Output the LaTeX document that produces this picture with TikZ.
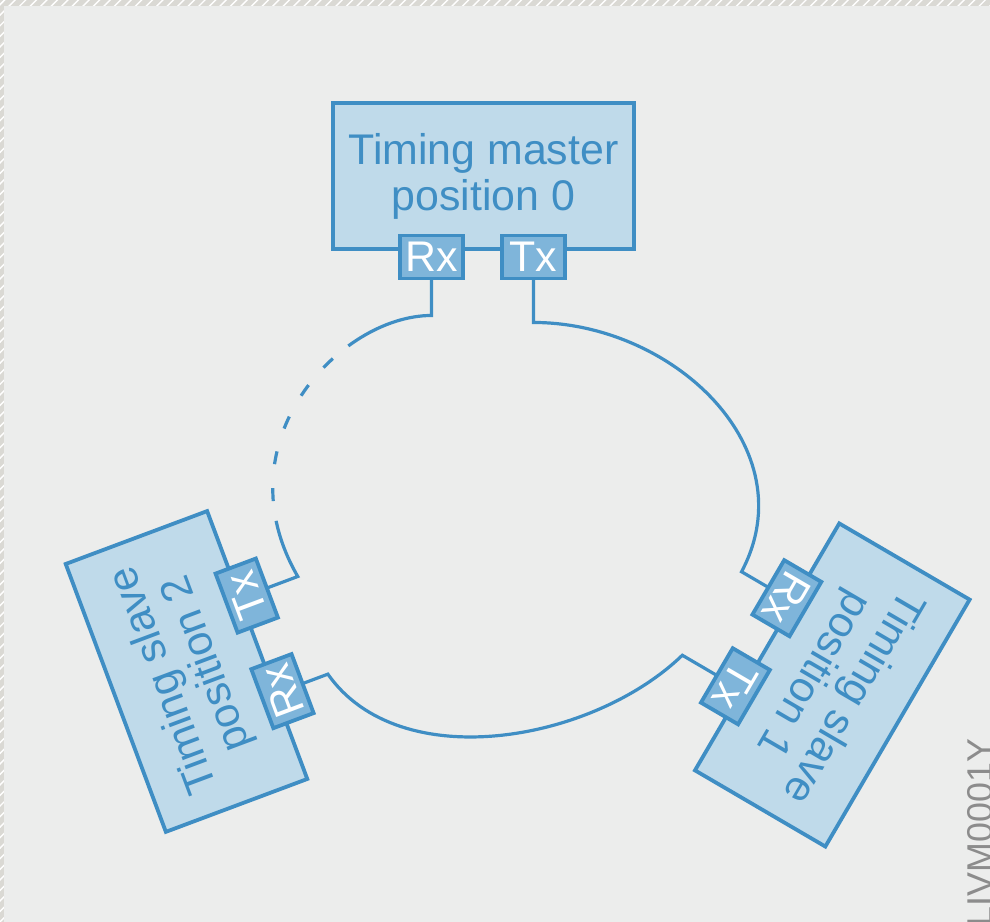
\documentclass[tikz,border=0pt]{standalone}
\usepackage{fontspec}
\setmainfont{Liberation Sans}
\usetikzlibrary{calc, patterns}

\definecolor{panelgray}{HTML}{ECEDEC}
\definecolor{hatchgray}{HTML}{DAD9D4}
\definecolor{ringblue}{HTML}{3F8EC4}
\definecolor{boxblue}{HTML}{BFDAEA}
\definecolor{portblue}{HTML}{7FB5DA}
\definecolor{codegray}{HTML}{8C8C8C}

\begin{document}
\begin{tikzpicture}[
    box/.style={draw=ringblue, fill=boxblue, line width=0.38mm, align=center,
        text=ringblue, inner sep=0pt, outer sep=0pt,
        font=\fontsize{12.2}{13.1}\selectfont},
    port/.style={draw=ringblue, fill=portblue, line width=0.38mm, text=white,
        minimum width=6.3mm, minimum height=4.3mm, inner sep=0pt, outer sep=0pt,
        font=\fontsize{12.2}{13.1}\selectfont},
    link/.style={draw=ringblue, line width=0.32mm}
]
    % Panel and hatched edge
    \useasboundingbox (0,0) rectangle (9.9,9.22);
    \fill[panelgray] (0,0) rectangle (9.9,9.22);
    \fill[hatchgray] (0,9.16) rectangle (9.9,9.22);
    \fill[hatchgray] (0,0) rectangle (0.04,9.22);
    \fill[pattern=north east lines, pattern color=white] (0,9.16) rectangle (9.9,9.22);
    \fill[pattern=north east lines, pattern color=white] (0,0) rectangle (0.04,9.22);

    % Timing master
    \node[box, minimum width=30.1mm, minimum height=14.6mm] (master) at (4.835,7.46) {Timing master\\position 0};
    \node[port] (rx0) at (4.315,6.65) {Rx};
    \node[port] (tx0) at (5.335,6.65) {Tx};

    % Timing slave 1
    \begin{scope}[shift={(8.323,2.37)}, rotate=239.7, transform shape]
        \node[box, minimum width=28.6mm, minimum height=15.1mm] (slave1) at (0,0) {Timing slave\\position 1};
        \node[port] (rx1) at (-0.52,-0.83) {Rx};
        \node[port] (tx1) at (0.50,-0.83) {Tx};
    \end{scope}

    % Timing slave 2
    \begin{scope}[shift={(1.865,2.505)}, rotate=110.5, transform shape]
        \node[box, minimum width=28.6mm, minimum height=15.1mm] (slave2) at (0,0) {Timing slave\\position 2};
        \node[port] (rx2) at (-0.52,-0.83) {Rx};
        \node[port] (tx2) at (0.50,-0.83) {Tx};
    \end{scope}

    % Ring
    \draw[link] (tx0.south) -- ($(tx0.south)!-4.4mm!(tx0.north)$)
        to[out=0, in=62, looseness=1.1] ($(rx1.south)!-3.1mm!(rx1.north)$) -- (rx1.south);
    \draw[link] (tx1.south) -- ($(tx1.south)!-4mm!(tx1.north)$)
        to[out=-136, in=-55, looseness=0.9] ($(rx2.south)!-2.7mm!(rx2.north)$) -- (rx2.south);
    \draw[link, dash pattern=on 12.7mm off 2mm on 1.3mm off 2.3mm on 1.3mm off 2.4mm on 1.3mm off 2.4mm on 1.3mm off 2.4mm on 1.3mm off 2mm on 30mm]
        (rx0.south) -- ($(rx0.south)!-3.7mm!(rx0.north)$)
        .. controls +(-0.915,0) and +(-0.778,1.343) .. ($(tx2.south)!-3.3mm!(tx2.north)$) -- (tx2.south);

    % Figure code
    \node[rotate=90, anchor=base east, text=codegray, inner sep=0pt,
        font=\fontsize{10.2}{12}\selectfont] (code) at (9.92,1.84) {LIVM0001Y};
\end{tikzpicture}
\end{document}
